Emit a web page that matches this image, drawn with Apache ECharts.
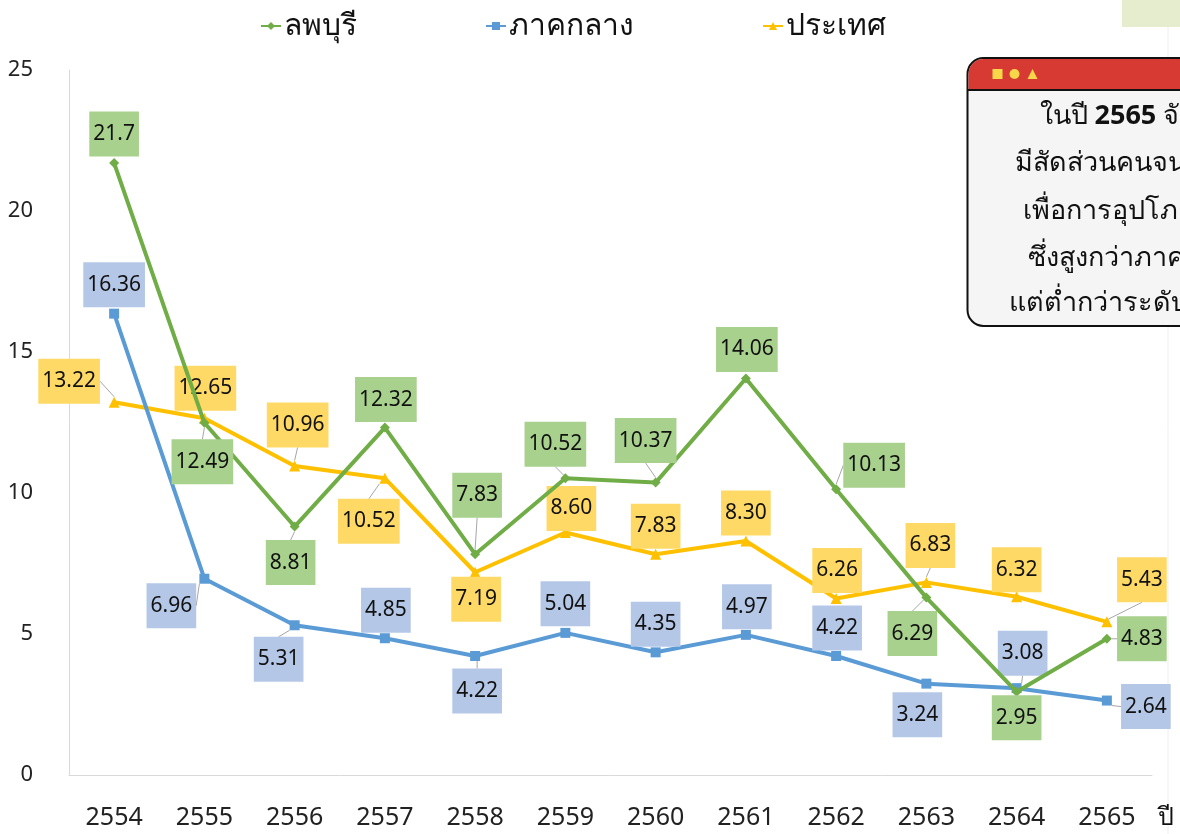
<!DOCTYPE html>
<html>
<head>
<meta charset="utf-8">
<script src="https://cdn.jsdelivr.net/npm/echarts@6/dist/echarts.min.js"></script>
<style>
  html, body { margin: 0; padding: 0; background: #fff; }
  #chart { width: 1180px; height: 834px; }
</style>
</head>
<body>
<div id="chart"></div>
<script>
// ข้อมูล: สัดส่วนคนจน (ร้อยละ) ปี 2554-2565
var years = ['2554','2555','2556','2557','2558','2559','2560','2561','2562','2563','2564','2565'];
var lopburi = [21.7, 12.49, 8.81, 12.32, 7.83, 10.52, 10.37, 14.06, 10.13, 6.29, 2.95, 4.83];
var central = [16.36, 6.96, 5.31, 4.85, 4.22, 5.04, 4.35, 4.97, 4.22, 3.24, 3.08, 2.64];
var country = [13.22, 12.65, 10.96, 10.52, 7.19, 8.60, 7.83, 8.30, 6.26, 6.83, 6.32, 5.43];
var yTicks = [0, 5, 10, 15, 20, 25];

// ตำแหน่งป้ายตัวเลข (เลื่อนจากจุด) แยกไว้ต่างหาก
var labelOffsets = [
  [[0,-29],[-2,39],[-4,36],[1,-28],[2,-59],[-10,-34],[-10,-42],[1,-29],[38,-24],[-14,36],[0,26],[35,0]],
  [[0,-29],[-33,27],[-16,34],[1,-28],[2,35],[0,-29],[0,-28],[1,-28],[1,-28],[-9,31],[6,-35],[39,6]],
  [[-45,-21],[1,-30],[3,-41],[-16,43],[1,27],[6,-24],[0,-28],[0,-28],[1,-28],[4,-37],[0,-27],[35,-42]]
];
// จุดที่มีเส้นโยงป้าย
var leaders = [
  [1,2,4,5,6,8,9,11],
  [1,2,4,10,11],
  [0,2,3,9,11]
];

var chart = echarts.init(document.getElementById('chart'));

function makeData(values, s) {
  return values.map(function (v, i) {
    return { value: v, labelLine: { show: leaders[s].indexOf(i) >= 0 } };
  });
}

function makeSeries(name, values, s, color, boxColor, symbol, size) {
  return {
    name: name,
    type: 'line',
    data: makeData(values, s),
    symbol: symbol,
    symbolSize: size,
    lineStyle: { color: color, width: 4 },
    itemStyle: { color: color },
    label: {
      show: true,
      position: 'inside',
      fontFamily: 'Noto Sans',
      fontSize: 21,
      color: '#111',
      backgroundColor: boxColor,
      lineHeight: 21,
      padding: [12, 4],
      formatter: function (p) {
        return s === 0 && p.dataIndex === 0 ? String(p.value) : p.value.toFixed(2);
      }
    },
    labelLine: {
      lineStyle: { color: '#a6a6a6', width: 1 }
    },
    labelLayout: function (p) {
      var o = labelOffsets[s][p.dataIndex];
      return { dx: o[0], dy: o[1] };
    },
    z: 3 - s
  };
}

var option = {
  backgroundColor: '#fff',
  animation: false,
  textStyle: { fontFamily: 'Noto Sans' },
  legend: {
    left: 255,
    top: 6,
    itemGap: 128,
    itemWidth: 20,
    itemHeight: 10,
    textStyle: { fontSize: 30, color: '#111', padding: [0, 0, 0, -2] },
    data: ['ลพบุรี', 'ภาคกลาง', 'ประเทศ']
  },
  grid: { left: 69, right: 28, top: 70, bottom: 59 },
  xAxis: {
    type: 'category',
    data: years,
    boundaryGap: true,
    name: 'ปี',
    nameLocation: 'end',
    nameGap: 6,
    nameTextStyle: { fontSize: 25, color: '#111', verticalAlign: 'top', padding: [30, 0, 0, 0] },
    axisLine: { lineStyle: { color: '#d9d9d9', width: 1 } },
    axisTick: { show: false },
    axisLabel: { fontSize: 25, color: '#222', margin: 30 }
  },
  yAxis: {
    type: 'value',
    min: yTicks[0],
    max: yTicks[yTicks.length - 1],
    interval: 5,
    axisLine: { show: true, lineStyle: { color: '#d9d9d9', width: 1 } },
    axisTick: { show: false },
    splitLine: { show: false },
    axisLabel: { fontSize: 22, color: '#222', margin: 36 }
  },
  graphic: [
    // เส้นจาง ๆ ด้านขวา
    { type: 'line', shape: { x1: 1168, y1: 27, x2: 1168, y2: 834 }, style: { stroke: '#eeeeee', lineWidth: 1 }, z: 0 },
    // กล่องสีเขียวมุมขวาบน
    { type: 'rect', shape: { x: 1122, y: 0, width: 70, height: 27 }, style: { fill: '#e6edcf' }, z: 1 },
    // กล่องสรุป
    {
      type: 'group',
      left: 965,
      top: 57,
      z: 10,
      children: [
        { type: 'rect', shape: { x: 0, y: 0, width: 320, height: 268, r: 16 }, style: { fill: '#f4f5f4', stroke: '#111', lineWidth: 2 } },
        { type: 'rect', shape: { x: 1, y: 1, width: 318, height: 31, r: [15, 15, 0, 0] }, style: { fill: '#d63a33' } },
        { type: 'line', shape: { x1: 0, y1: 32, x2: 320, y2: 32 }, style: { stroke: '#111', lineWidth: 2 } },
        { type: 'rect', shape: { x: 25, y: 11, width: 10, height: 10 }, style: { fill: '#f7d64a' } },
        { type: 'circle', shape: { cx: 47, cy: 16, r: 5 }, style: { fill: '#f7d64a' } },
        { type: 'polygon', shape: { points: [[60, 21], [65, 11], [70, 21]] }, style: { fill: '#f7d64a' } },
        { type: 'text', x: 72, y: 58, style: { text: 'ในปี {b|2565} จังหวัดลพบุรี', rich: { b: { fontWeight: 'bold', fontSize: 27, fontFamily: 'Noto Sans', fill: '#111' } }, fontSize: 27, fontFamily: 'Noto Sans', fill: '#111', verticalAlign: 'middle' } },
        { type: 'text', x: 47, y: 105, style: { text: 'มีสัดส่วนคนจนด้านรายจ่าย', fontSize: 27, fontFamily: 'Noto Sans', fill: '#111', verticalAlign: 'middle' } },
        { type: 'text', x: 55, y: 153, style: { text: 'เพื่อการอุปโภคบริโภค', fontSize: 27, fontFamily: 'Noto Sans', fill: '#111', verticalAlign: 'middle' } },
        { type: 'text', x: 60, y: 200, style: { text: 'ซึ่งสูงกว่าภาคกลาง', fontSize: 27, fontFamily: 'Noto Sans', fill: '#111', verticalAlign: 'middle' } },
        { type: 'text', x: 41, y: 245, style: { text: 'แต่ต่ำกว่าระดับประเทศ', fontSize: 27, fontFamily: 'Noto Sans', fill: '#111', verticalAlign: 'middle' } }
      ]
    }
  ],
  series: [
    makeSeries('ลพบุรี', lopburi, 0, '#70ad47', '#a9d18e', 'diamond', 10),
    makeSeries('ภาคกลาง', central, 1, '#5b9bd5', '#b4c7e7', 'rect', 10),
    makeSeries('ประเทศ', country, 2, '#ffc000', '#ffd966', 'triangle', 11)
  ]
};

chart.setOption(option);
</script>
</body>
</html>
